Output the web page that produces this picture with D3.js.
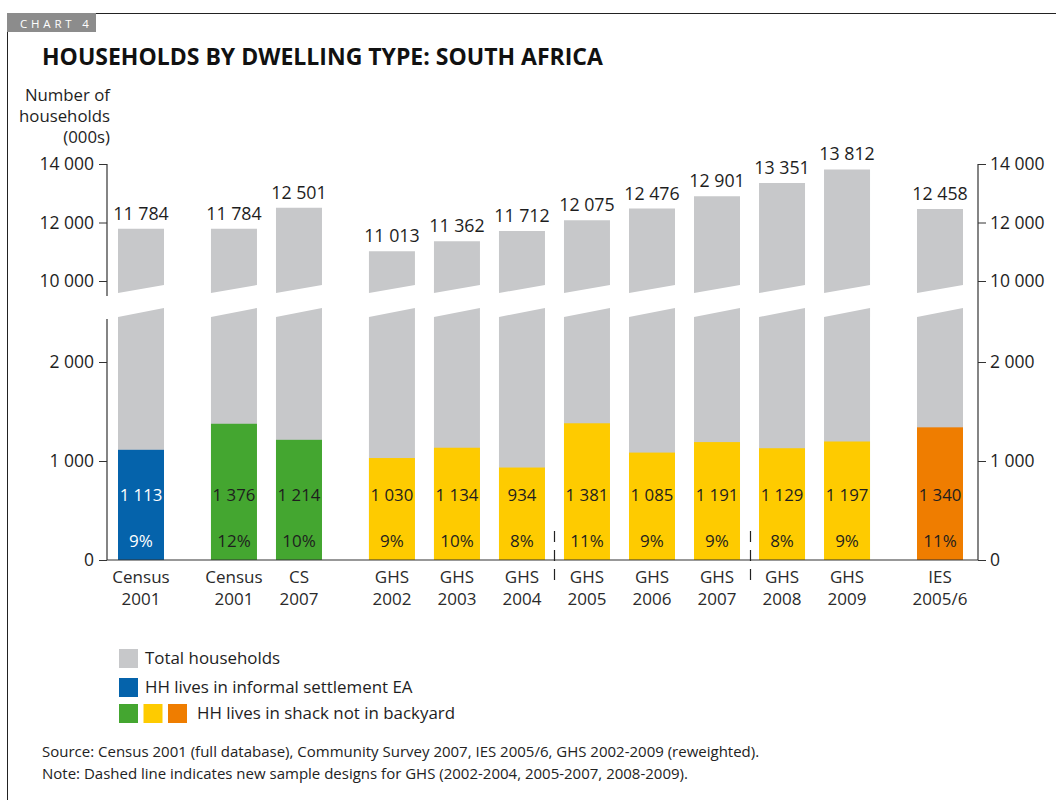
<!DOCTYPE html>
<html>
<head>
<meta charset="utf-8">
<script src="https://cdn.jsdelivr.net/npm/d3@7/dist/d3.min.js"></script>
<style>
  html, body { margin: 0; padding: 0; background: #fff; }
  svg { display: block; font-family: "Open Sans", "Noto Sans", sans-serif; }
</style>
</head>
<body>
<svg id="chart" width="1056" height="800"></svg>
<script>
// Survey / source labels (two lines each)
const sourceNames = ["Census", "Census", "CS", "GHS", "GHS", "GHS", "GHS", "GHS", "GHS", "GHS", "GHS", "IES"];
const sourceYears = ["2001", "2001", "2007", "2002", "2003", "2004", "2005", "2006", "2007", "2008", "2009", "2005/6"];
// Which block of sources each bar belongs to (extra gap between blocks)
const sourceGroup = [0, 1, 1, 2, 2, 2, 2, 2, 2, 2, 2, 3];
// Kind of measure for the coloured part of the bar
const measureKind = ["informal", "census", "census", "ghs", "ghs", "ghs", "ghs", "ghs", "ghs", "ghs", "ghs", "ies"];
// Total households (000s)
const totalHouseholds = [11784, 11784, 12501, 11013, 11362, 11712, 12075, 12476, 12901, 13351, 13812, 12458];
// Households in informal settlement EA / in shack not in backyard (000s)
const informalHouseholds = [1113, 1376, 1214, 1030, 1134, 934, 1381, 1085, 1191, 1129, 1197, 1340];
// Share of all households (%)
const informalShare = [9, 12, 10, 9, 10, 8, 11, 9, 9, 8, 9, 11];
// New GHS sample designs start between these bars
const designBreaks = [[5, 6], [8, 9]];
// Axis ticks on the two segments of the broken axis
const upperTicks = [10000, 12000, 14000];
const lowerTicks = [0, 1000, 2000];
// Legend entries
const legendItems = [
  { kinds: ["total"], label: "Total households" },
  { kinds: ["informal"], label: "HH lives in informal settlement EA" },
  { kinds: ["census", "ghs", "ies"], label: "HH lives in shack not in backyard" }
];

const colour = {
  total: "#c7c8ca",
  informal: "#0563ab",
  census: "#44a630",
  ghs: "#fecb00",
  ies: "#ef7d00"
};
const ink = "#1e1e1e";

const svg = d3.select("#chart");
const fmt = d3.formatLocale({ thousands: " ", grouping: [3], decimal: "." }).format(",");

// Frame and chart tag
svg.append("path").attr("d", "M7.5,800 V13.5 H1056").attr("fill", "none").attr("stroke", "#222").attr("stroke-width", 1);
svg.append("rect").attr("x", 7).attr("y", 13).attr("width", 89).attr("height", 19).attr("fill", "#8c8c8c");
svg.append("text").attr("x", 20).attr("y", 27.5).attr("fill", "#fff").attr("font-size", 11.5)
  .attr("letter-spacing", "3.8px").text("CHART 4");

svg.append("text").attr("x", 42).attr("y", 65).attr("font-size", 23).attr("font-weight", "bold")
  .attr("fill", "#111").text("HOUSEHOLDS BY DWELLING TYPE: SOUTH AFRICA");

// Y axis title
const yTitle = svg.append("text").attr("text-anchor", "end").attr("font-size", 16.8).attr("fill", ink);
["Number of", "households", "(000s)"].forEach((t, i) => {
  yTitle.append("tspan").attr("x", 110).attr("y", 101 + i * 21).text(t);
});

// Scales
const leftX = 107, rightX = 978, baseY = 560;
const upperBottom = 296, lowerTop = 319;           // axis break
const yUpper = d3.scaleLinear().domain([10000, 14000]).range([281, 164]);
const yLower = d3.scaleLinear().domain([0, 2000]).range([baseY, 362]);

const groupGap = 0.43;
const slot = sourceNames.map((_, i) => i + sourceGroup[i] * groupGap);
const x = d3.scaleLinear().domain([0, d3.max(slot)]).range([141, 940]);
const barW = 46;

// Bars
const bars = svg.append("g");
sourceNames.forEach((_, i) => {
  const cx = x(slot[i]), x0 = cx - barW / 2, x1 = cx + barW / 2;
  // upper part of the total bar, cut with a slanted edge
  bars.append("path").attr("fill", colour.total)
    .attr("d", `M${x0},${yUpper(totalHouseholds[i])} H${x1} V285 L${x0},293 Z`);
  // lower part of the total bar
  bars.append("path").attr("fill", colour.total)
    .attr("d", `M${x0},317 L${x1},308 V${baseY} H${x0} Z`);
  // informal / shack households
  bars.append("rect").attr("x", x0).attr("width", barW)
    .attr("y", yLower(informalHouseholds[i]))
    .attr("height", baseY - yLower(informalHouseholds[i]))
    .attr("fill", colour[measureKind[i]]);
});

// Value labels
const labels = svg.append("g").attr("text-anchor", "middle");
sourceNames.forEach((_, i) => {
  const cx = x(slot[i]);
  const c = measureKind[i] === "informal" ? "#fff" : ink;
  labels.append("text").attr("x", cx).attr("y", yUpper(totalHouseholds[i]) - 9)
    .attr("font-size", 17.8).attr("fill", ink).text(fmt(totalHouseholds[i]));
  labels.append("text").attr("x", cx).attr("y", 501).attr("font-size", 16.8)
    .attr("fill", c).text(fmt(informalHouseholds[i]));
  labels.append("text").attr("x", cx).attr("y", 547).attr("font-size", 17)
    .attr("fill", c).text(informalShare[i] + "%");
});

// Axes
function styleAxis(g) {
  g.select(".domain").remove();
  g.selectAll("line").attr("stroke", "#333");
  g.selectAll("text").attr("fill", ink).attr("font-size", 17.5).attr("font-family", "Open Sans, sans-serif");
}
svg.append("g").attr("transform", `translate(${leftX},0)`)
  .call(d3.axisLeft(yUpper).tickValues(upperTicks).tickFormat(fmt).tickSize(8).tickPadding(5)).call(styleAxis);
svg.append("g").attr("transform", `translate(${leftX},0)`)
  .call(d3.axisLeft(yLower).tickValues(lowerTicks).tickFormat(fmt).tickSize(8).tickPadding(5)).call(styleAxis);
svg.append("g").attr("transform", `translate(${rightX},0)`)
  .call(d3.axisRight(yUpper).tickValues(upperTicks).tickFormat(fmt).tickSize(8).tickPadding(4)).call(styleAxis);
svg.append("g").attr("transform", `translate(${rightX},0)`)
  .call(d3.axisRight(yLower).tickValues(lowerTicks).tickFormat(fmt).tickSize(8).tickPadding(4)).call(styleAxis);

const axisLines = svg.append("g").attr("stroke", "#333").attr("stroke-width", 1.2);
axisLines.append("line").attr("x1", leftX).attr("x2", leftX).attr("y1", yUpper(14000)).attr("y2", upperBottom);
axisLines.append("line").attr("x1", leftX).attr("x2", leftX).attr("y1", lowerTop).attr("y2", baseY);
axisLines.append("line").attr("x1", rightX).attr("x2", rightX).attr("y1", yUpper(14000)).attr("y2", baseY);
axisLines.append("line").attr("x1", leftX).attr("x2", rightX).attr("y1", baseY).attr("y2", baseY);

// Sample design breaks
designBreaks.forEach(([a, b]) => {
  const bx = Math.round((x(slot[a]) + barW / 2 + x(slot[b]) - barW / 2) / 2) + 0.5;
  svg.append("line").attr("x1", bx).attr("x2", bx).attr("y1", 531).attr("y2", 586)
    .attr("stroke", "#222").attr("stroke-width", 1.2).attr("stroke-dasharray", "11,8");
});

// Category labels
const cats = svg.append("g").attr("text-anchor", "middle").attr("font-size", 17).attr("fill", "#2a2a2a");
sourceNames.forEach((n, i) => {
  const cx = x(slot[i]);
  cats.append("text").attr("x", cx).attr("y", 583).text(n);
  cats.append("text").attr("x", cx).attr("y", 605).text(sourceYears[i]);
});

// Legend
const legend = svg.append("g").attr("font-size", 16.9).attr("fill", ink);
legendItems.forEach((item, r) => {
  const y = [649, 678, 704][r];
  item.kinds.forEach((k, j) => {
    legend.append("rect").attr("x", 119 + j * 24.5).attr("y", y).attr("width", 19).attr("height", 19).attr("fill", colour[k]);
  });
  const tx = item.kinds.length > 1 ? 197 : 145;
  legend.append("text").attr("x", tx).attr("y", y + 15).text(item.label);
});

// Notes
const notes = svg.append("g").attr("font-size", 15).attr("fill", "#222");
notes.append("text").attr("x", 42).attr("y", 757)
  .text("Source: Census 2001 (full database), Community Survey 2007, IES 2005/6, GHS 2002-2009 (reweighted).");
notes.append("text").attr("x", 42).attr("y", 779)
  .text("Note: Dashed line indicates new sample designs for GHS (2002-2004, 2005-2007, 2008-2009).");
</script>
</body>
</html>
